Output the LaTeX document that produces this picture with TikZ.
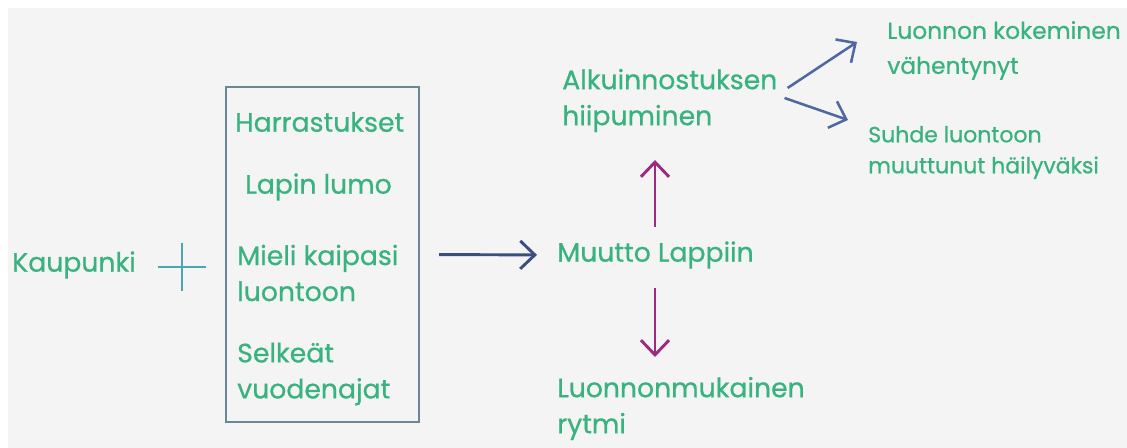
\documentclass[tikz,border=0pt]{standalone}
\usepackage{fontspec}
\setmainfont{Poppins}[FakeBold=0.6]
\usetikzlibrary{arrows.meta,positioning}
\definecolor{leafgreen}{HTML}{38B27E}
\definecolor{boxgray}{HTML}{6A8794}
\definecolor{paper}{HTML}{F4F4F4}
\definecolor{arrownavy}{HTML}{3A4F80}
\definecolor{arrowplum}{HTML}{9A2B80}
\definecolor{arrowsteel}{HTML}{4E68A4}
\definecolor{plusteal}{HTML}{4AA6B0}
\newlength{\pxu}
\setlength{\pxu}{0.75pt}

\begin{document}
\begin{tikzpicture}[
  x=0.75pt, y=-0.75pt,
  idea/.style={anchor=west, inner sep=0pt, align=left, text=leafgreen, font=\fontsize{20}{27}\selectfont},
  mididea/.style={idea, font=\fontsize{17.5}{26.25}\selectfont},
  smallidea/.style={idea, font=\fontsize{16.5}{23.25}\selectfont},
  listbox/.style={rectangle, draw=boxgray, line width=1.5pt, minimum width=193\pxu, minimum height=335\pxu},
  arrow/.style={-{Straight Barb[length=11pt, width=21pt]}, line width=2.2pt, draw=arrownavy},
  vertarrow/.style={arrow, draw=arrowplum},
  branch/.style={arrow, draw=arrowsteel, line width=1.9pt}
]
% background
\fill[white] (0,0) rectangle (1127,448);
\fill[paper] (8,8) rectangle (1127,448);

\node[idea] (city) at (12,265) {Kaupunki};
\node[minimum size=48\pxu, inner sep=0pt] (plus) at (182,267) {};
\draw[plusteal, line width=2pt] (plus.west) -- (plus.east);
\draw[plusteal, line width=2pt] (plus.north) -- (plus.south);

\node[listbox] (box) at (322.5,254.5) {};
\node[idea] (hobby) at (235,122) {Harrastukset};
\node[idea] (lumo) at (245,187) {Lapin lumo};
\node[idea] (mind) at (237,273) {Mieli kaipasi\\luontoon};
\node[idea] (seasons) at (237,374) {Selkeät\\vuodenajat};

\node[idea] (move) at (557,255) {Muutto Lappiin};
\node[idea] (fading) at (562,100.5) {Alkuinnostuksen\\hiipuminen};
\node[idea] (rhythm) at (557,408.5) {Luonnonmukainen\\rytmi};
\node[mididea] (experience) at (887,50.5) {Luonnon kokeminen\\vähentynyt};
\node[smallidea] (relation) at (868,152.5) {Suhde luontoon\\muuttunut häilyväksi};

\draw[arrow, shorten <=14.25pt, shorten >=15pt] (box.east) -- (move.west);
\draw[vertarrow] ([shift={(98,-28)}]move.west) -- ([shift={(93,59.5)}]fading.west);
\draw[vertarrow] ([shift={(98,33)}]move.west) -- ([shift={(98,-51.5)}]rhythm.west);
\draw[branch] ([shift={(10,-12.5)}]fading.east) -- ([shift={(-30,-8.5)}]experience.west);
\draw[branch] ([shift={(7,-2.5)}]fading.east) -- ([shift={(-20,-32.5)}]relation.west);
\end{tikzpicture}
\end{document}
